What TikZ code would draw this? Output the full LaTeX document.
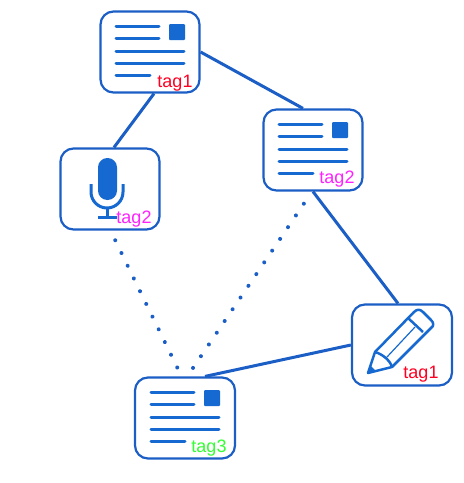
\documentclass[tikz,border=0pt]{standalone}
\usepackage{fontspec}
\setmainfont{Liberation Sans}
\usetikzlibrary{calc}
\definecolor{boxblue}{HTML}{1B5EC6}
\definecolor{iconblue}{HTML}{1569D0}
\definecolor{tagred}{HTML}{FF0022}
\definecolor{tagpink}{HTML}{FF22FF}
\definecolor{taggreen}{HTML}{33FF33}
\tikzset{
    card/.style={draw=boxblue,line width=2.2pt,rounded corners=13pt,fill=white,
        minimum width=99pt,minimum height=81pt,inner sep=0pt},
    link/.style={draw=boxblue,line width=3pt},
    dotlink/.style={draw=boxblue,line width=4pt,line cap=round,dash pattern=on 0.01pt off 14.14pt},
    tagtext/.style={anchor=base,inner sep=0pt,font=\fontsize{18}{20}\selectfont},
    docicon/.pic={
        \foreach \y/\xa in {-26/9,-14/9,-1/34,11/34,23/0}
            \draw[iconblue,line width=3pt,line cap=round] (-34,\y) -- (\xa,\y);
        \fill[iconblue,rounded corners=1pt] (19,-28) rectangle (35,-12);
    },
    micicon/.pic={
        \fill[iconblue,rounded corners=9.4pt] (-12,-31) rectangle (7,11);
        \draw[iconblue,line width=3pt] (-19,-5) -- (-19,3) arc[start angle=180,end angle=0,radius=16] -- (13,-5);
        \draw[iconblue,line width=3pt] (-3,19) -- (-3,28);
        \draw[iconblue,line width=3pt] (-12,28) -- (7,28);
    },
    penicon/.pic={
        \draw[iconblue,line width=2.5pt,line join=round] (-34,28) -- (-27,7) -- (12,-33)
            .. controls (15,-36) and (18,-36) .. (21,-33) -- (29,-25)
            .. controls (32,-22) and (32,-19) .. (29,-17) -- (-10,22) -- cycle;
        \draw[iconblue,line width=2.5pt] (-27,7) .. controls (-20,9) and (-12,15) .. (-10,22);
        \draw[iconblue,line width=2.5pt] (6,-27) -- (21,-13);
        \draw[iconblue,line width=1.2pt] (-15,12) -- (13,-18);
        \fill[iconblue] (-35,29) -- (-32,20) -- (-26,26) -- cycle;
    }
}
\begin{document}
\begin{tikzpicture}[x=1pt,y=-1pt]
    \useasboundingbox (0,0) rectangle (464,483);
    % cards
    \node[card] (docOne) at (150,52) {};
    \node[card] (micCard) at (110,189) {};
    \node[card] (docTwo) at (313,150) {};
    \node[card,minimum width=100pt] (penCard) at (402,345) {};
    \node[card,minimum width=100pt] (docThree) at (185,418) {};
    % solid links
    \draw[link] (docOne.east) -- ([xshift=-10pt]docTwo.north);
    \draw[link] ([xshift=4pt]docOne.south) -- ([xshift=4pt]micCard.north);
    \draw[link] (docTwo.south) -- ([xshift=-4pt]penCard.north);
    \draw[link] (penCard.west) -- ([xshift=20pt]docThree.north);
    % dotted links
    \draw[dotlink,shorten <=10.8pt,shorten >=8pt] ([xshift=.5pt]micCard.south) -- ([xshift=-3.4pt]docThree.north);
    \draw[dotlink,shorten <=14.6pt,shorten >=9pt] ([xshift=-1pt]docTwo.south) -- ([xshift=2.3pt]docThree.north);
    % icons
    \pic at (docOne) {docicon};
    \pic at (docTwo) {docicon};
    \pic at (docThree) {docicon};
    \pic at (micCard) {micicon};
    \pic at (penCard) {penicon};
    % tags
    \node[tagtext,text=tagred] (tagOne) at (175,87) {tag1};
    \node[tagtext,text=tagpink] (tagMic) at (134,223) {tag2};
    \node[tagtext,text=tagpink] (tagTwo) at (337,183) {tag2};
    \node[tagtext,text=tagred] (tagPen) at (421,378) {tag1};
    \node[tagtext,text=taggreen] (tagThree) at (209,452) {tag3};
\end{tikzpicture}
\end{document}
